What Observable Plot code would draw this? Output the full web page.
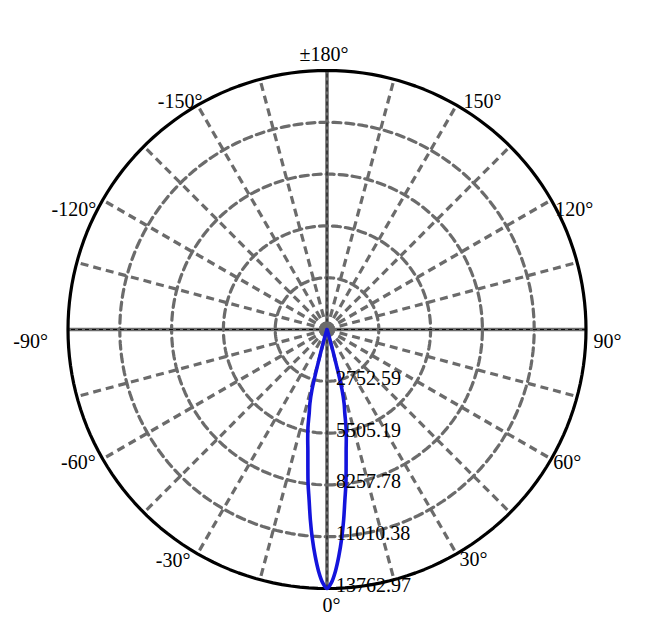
<!DOCTYPE html>
<html>
<head>
<meta charset="utf-8">
<script src="https://cdn.jsdelivr.net/npm/d3@7"></script>
<script src="https://cdn.jsdelivr.net/npm/@observablehq/plot@0.6"></script>
<style>
  html, body { margin: 0; padding: 0; background: #fff; }
  svg { display: block; }
</style>
</head>
<body>
<div id="chart"></div>
<script>
// ---- data ----
const ringValues = [2752.59, 5505.19, 8257.78, 11010.38, 13762.97];
const ringLabels = ["2752.59", "5505.19", "8257.78", "11010.38", "13762.97"];
const labelAngles = [0, 30, 60, 90, 120, 150, 180, -150, -120, -90, -60, -30];
const labelTexts = ["0°", "30°", "60°", "90°", "120°", "150°", "±180°", "-150°", "-120°", "-90°", "-60°", "-30°"];
const beamAngles = [0, 1, 2, 3, 4, 5, 6, 7, 8, 9, 10, 11, 12, 13, 14, 15, 16, 17, 18, 20, 25, 30, 45, 60, 90];
const beamValues = [13762.97, 13450, 12850, 12050, 11150, 10150, 9100, 8250, 7300, 6500, 5900, 5300, 4550, 4050, 3300, 1600, 700, 300, 150, 50, 0, 0, 0, 0, 0];

// ---- helpers ----
const R = ringValues[ringValues.length - 1];
const rad = a => a * Math.PI / 180;
const px = (a, r) => r * Math.sin(rad(a));
const py = (a, r) => -r * Math.cos(rad(a));

// rings
const ringPts = [];
for (const v of ringValues) {
  for (let a = 0; a <= 360; a += 2) ringPts.push({v, a, r: v});
}
// spokes every 15°
const spokes = d3.range(0, 360, 15).filter(a => a % 90 !== 0);
const axesLines = [0, 90];

// beam, mirrored
const beam = [];
for (let i = beamAngles.length - 1; i > 0; i--) beam.push({a: -beamAngles[i], r: beamValues[i]});
for (let i = 0; i < beamAngles.length; i++) beam.push({a: beamAngles[i], r: beamValues[i]});

// label placement styles (pixel offsets from the outer circle point)
const labelStyle = {
  "0": {anchor: "middle", dx: 4.5, dy: 17},
  "30": {anchor: "start", dx: 3, dy: 5.5},
  "60": {anchor: "start", dx: 2, dy: 3.5},
  "90": {anchor: "start", dx: 7.5, dy: 12},
  "120": {anchor: "start", dx: 4, dy: 9.5},
  "150": {anchor: "start", dx: 7, dy: -4},
  "180": {anchor: "middle", dx: -3, dy: -16},
  "-150": {anchor: "end", dx: 5, dy: -3.5},
  "-120": {anchor: "end", dx: -6.5, dy: 10},
  "-90": {anchor: "end", dx: -20, dy: 12},
  "-60": {anchor: "end", dx: -7, dy: 4},
  "-30": {anchor: "end", dx: -7, dy: 6.5}
};

const font = "Liberation Serif, Times New Roman, serif";
const gridColor = "#6b6b6b";

const labelMarks = labelAngles.map((a, i) => {
  const s = labelStyle[String(a)];
  return Plot.text([{a, t: labelTexts[i]}], {
    x: d => px(d.a, R), y: d => py(d.a, R), text: "t",
    textAnchor: s.anchor, lineAnchor: "middle", dx: s.dx, dy: s.dy,
    fontSize: 20, fontFamily: font, fill: "#000"
  });
});

const chart = Plot.plot({
  width: 649,
  height: 643,
  marginLeft: 67.5,
  marginRight: 63.5,
  marginTop: 70,
  marginBottom: 55,
  x: {domain: [-R, R], axis: null},
  y: {domain: [-R, R], axis: null},
  style: {fontFamily: font, fontSize: "20px", background: "#fff"},
  marks: [
    // dashed rings (inner)
    Plot.line(ringPts.filter(d => d.v < R), {
      x: d => px(d.a, d.r), y: d => py(d.a, d.r), z: "v",
      stroke: gridColor, strokeWidth: 3.2, strokeDasharray: "8,5"
    }),
    // dashed spokes
    Plot.link(spokes, {
      x1: 0, y1: 0, x2: a => px(a, R), y2: a => py(a, R),
      stroke: gridColor, strokeWidth: 3.2, strokeDasharray: "8,5"
    }),
    // main axes: grey solid + thin black dashes
    Plot.link(axesLines, {
      x1: a => px(a, R), y1: a => py(a, R), x2: a => px(a + 180, R), y2: a => py(a + 180, R),
      stroke: gridColor, strokeWidth: 3.6
    }),
    Plot.link(axesLines, {
      x1: a => px(a, R), y1: a => py(a, R), x2: a => px(a + 180, R), y2: a => py(a + 180, R),
      stroke: "#000", strokeWidth: 0.9, strokeDasharray: "4,3"
    }),
    // outer circle
    Plot.line(ringPts.filter(d => d.v === R), {
      x: d => px(d.a, d.r), y: d => py(d.a, d.r),
      stroke: "#000", strokeWidth: 3.2
    }),
    // center blob
    Plot.dot([0], {x: 0, y: 0, r: 8, fill: gridColor, stroke: "none"}),
    // beam curve
    Plot.line(beam, {
      x: d => px(d.a, d.r), y: d => py(d.a, d.r),
      stroke: "#1414dc", strokeWidth: 3.6, curve: "catmull-rom", strokeLinejoin: "round"
    }),
    // ring labels
    Plot.text(ringValues, {
      x: 0, y: v => -v, text: (v, i) => ringLabels[i],
      textAnchor: "start", lineAnchor: "middle", dx: 9, dy: -3,
      fontSize: 20, fontFamily: font, fill: "#000"
    }),
    ...labelMarks
  ]
});

document.getElementById("chart").appendChild(chart);
</script>
</body>
</html>
